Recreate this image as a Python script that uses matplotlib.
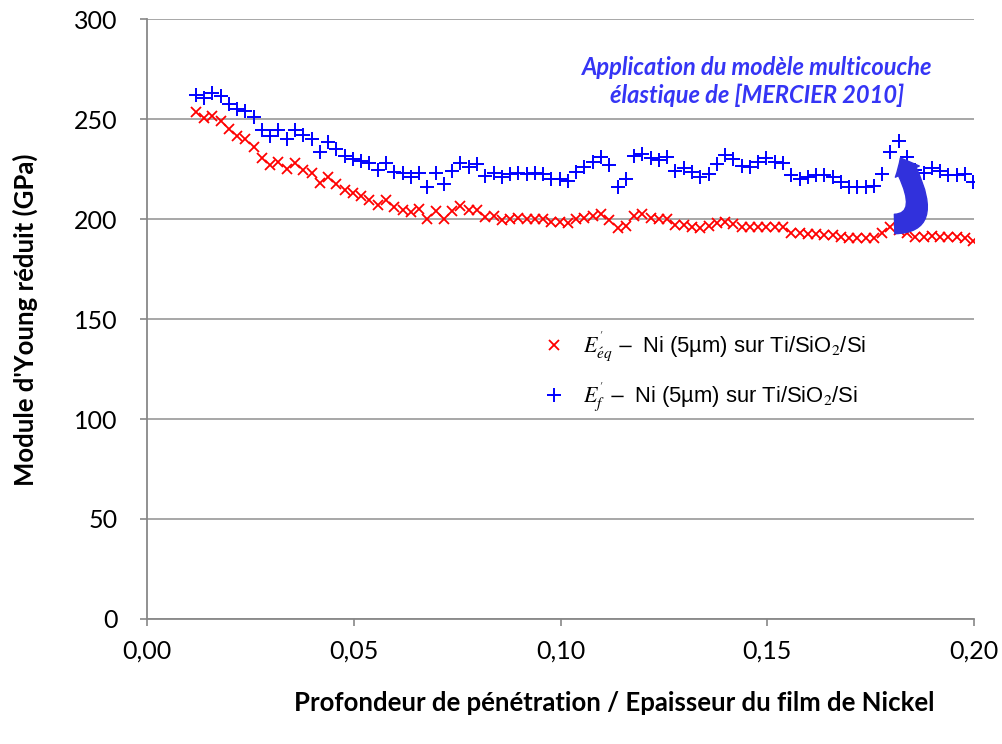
import numpy as np
import matplotlib
matplotlib.use("Agg")
from matplotlib import pyplot as plt
from matplotlib.patches import FancyArrowPatch
from matplotlib.path import Path
from matplotlib.ticker import FuncFormatter

# Depth / film thickness ratio (regular indentation sampling)
ratio = np.round(0.0118 + 0.002 * np.arange(95), 4)

# Reduced Young's modulus of the film+substrate system (GPa)
E_eq = [253.3, 250.7, 251.7, 249.0, 244.8, 241.5, 239.8, 236.2, 230.3, 227.0,
        228.7, 224.8, 228.2, 224.5, 222.8, 217.8, 220.8, 217.5, 214.5, 212.8,
        211.5, 209.5, 207.0, 209.5, 205.8, 204.5, 203.7, 204.8, 199.8, 204.2,
        199.8, 204.2, 206.5, 204.5, 204.5, 201.2, 201.5, 199.5, 199.8, 200.3,
        199.8, 199.8, 199.8, 198.7, 198.7, 197.8, 199.8, 200.3, 201.5, 202.5,
        199.5, 195.5, 196.5, 201.5, 202.3, 200.3, 199.8, 199.8, 197.0, 197.0,
        195.8, 195.3, 196.5, 197.8, 198.7, 197.5, 196.2, 195.8, 196.2, 196.2,
        195.8, 195.8, 193.2, 192.8, 192.5, 192.5, 192.0, 192.0, 190.8, 190.3,
        190.3, 190.3, 190.3, 192.8, 196.2, 194.5, 192.8, 191.2, 191.2, 191.5,
        191.2, 190.8, 190.8, 190.3, 189.2]

# Film modulus extracted with the multilayer elastic model (GPa)
E_f = [262.0, 260.5, 262.8, 261.5, 257.5, 254.8, 254.2, 251.2, 244.5, 241.5,
       244.5, 239.8, 244.5, 242.0, 239.8, 233.7, 238.7, 234.8, 231.5, 229.8,
       229.2, 227.8, 224.5, 228.2, 223.7, 222.8, 221.0, 223.2, 216.2, 222.8,
       217.5, 224.2, 227.8, 226.2, 227.5, 221.5, 223.2, 221.0, 222.5, 222.8,
       222.5, 222.8, 222.5, 219.8, 219.8, 219.2, 223.7, 225.8, 228.7, 231.2,
       227.0, 216.2, 219.8, 231.5, 232.5, 230.3, 229.5, 230.8, 224.2, 225.3,
       223.7, 220.8, 222.5, 227.5, 232.0, 229.8, 226.5, 225.8, 228.7, 230.3,
       228.7, 227.8, 222.0, 219.8, 221.2, 222.0, 222.0, 220.8, 218.7, 215.8,
       216.2, 216.2, 216.7, 222.5, 233.3, 239.0, 231.0, 224.5, 222.8, 225.5,
       224.2, 221.8, 221.8, 222.3, 218.5]

label_eq = r"$E^{'}_{\acute{e}q}\,-$ Ni (5µm) sur Ti/SiO$_2$/Si"
label_f = r"$E^{'}_{f}\,-$ Ni (5µm) sur Ti/SiO$_2$/Si"

plt.rcParams["mathtext.fontset"] = "stix"
plt.rcParams["font.family"] = ["Lato", "DejaVu Sans"]

fig = plt.figure(figsize=(10.02, 7.44), dpi=100)
ax = fig.add_axes([147 / 1002, 1 - 619 / 744, 827 / 1002, 600 / 744])

ax.plot(ratio, E_eq, "x", color="#ff0000", markersize=7, markeredgewidth=1.3,
        label=label_eq, zorder=3)
ax.plot(ratio, E_f, "+", color="#0000ff", markersize=10, markeredgewidth=1.4,
        label=label_f, zorder=3)

ax.set_xlim(0, 0.2)
ax.set_ylim(0, 300)
ax.set_xticks(np.arange(0, 0.201, 0.05))
ax.set_yticks(np.arange(0, 301, 50))
ax.xaxis.set_major_formatter(FuncFormatter(lambda v, p: f"{v:.2f}".replace(".", ",")))
ax.tick_params(labelsize=18, color="#888888", length=5, width=1.2)
ax.tick_params(axis="x", pad=10)
ax.tick_params(axis="y", pad=16)
ax.grid(axis="y", color="#a0a0a0", linewidth=1.3)
ax.set_axisbelow(True)
for side in ["top", "right"]:
    ax.spines[side].set_visible(False)
for side in ["left", "bottom"]:
    ax.spines[side].set_color("#888888")
    ax.spines[side].set_linewidth(1.3)

fig.text(25 / 1002, 1 - 320 / 744, "Module d'Young réduit (GPa)",
         rotation=90, ha="center", va="center", fontsize=18.5, fontweight="bold")
fig.text(614 / 1002, 1 - 703 / 744,
         "Profondeur de pénétration / Epaisseur du film de Nickel",
         ha="center", va="center", fontsize=18.5, fontweight="bold")

leg = ax.legend(loc="upper left", bbox_to_anchor=(0.455, 0.495), frameon=False,
                prop={"family": "Liberation Sans", "size": 15.8},
                handletextpad=0.3, labelspacing=0.75, borderaxespad=0)

ax.text(0.1475, 268.8, "Application du modèle multicouche\nélastique de [MERCIER 2010]",
        ha="center", va="center", fontsize=17, fontweight="bold",
        fontstyle="italic", color="#3535f5", linespacing=1.2)

# curved arrow pointing from the equivalent modulus up to the film modulus
arrow_path = Path([(0.1808, 197.5), (0.1908, 198.0), (0.1822, 230.5)],
                  [Path.MOVETO, Path.CURVE3, Path.CURVE3])
arrow = FancyArrowPatch(path=arrow_path,
                        arrowstyle="simple,head_width=19,head_length=11,tail_width=14",
                        color="#3131dc", zorder=4)
ax.add_patch(arrow)

fig.savefig("out.png", dpi=100)
